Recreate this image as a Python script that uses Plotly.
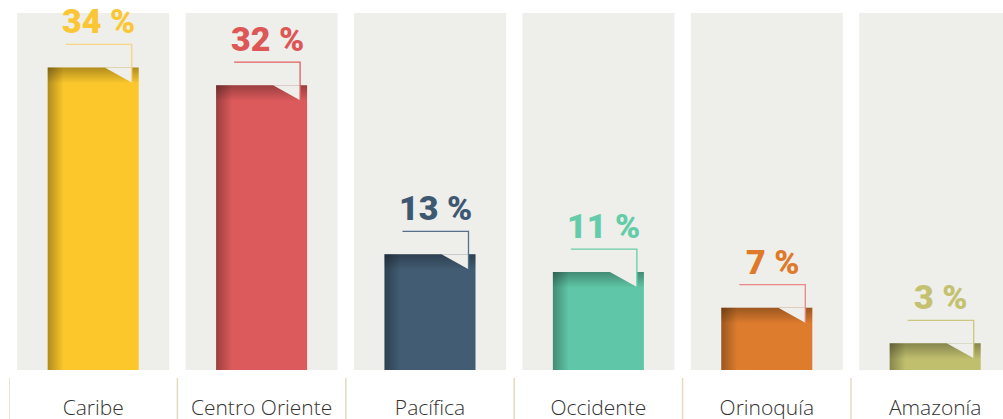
import plotly.graph_objects as go

# ---- data ----
categories = ["Caribe", "Centro Oriente", "Pacífica", "Occidente", "Orinoquía", "Amazonía"]
values = [34, 32, 13, 11, 7, 3]
value_labels = ["34 %", "32 %", "13 %", "11 %", "7 %", "3 %"]

# ---- styles ----
bar_colors = ["#FBC72B", "#DC5A5B", "#425C73", "#5FC7A7", "#DD7C2D", "#C0BF6E"]
label_colors = ["#FBC633", "#DD5757", "#3E5872", "#63CCA8", "#E07A2B", "#C4C170"]
line_colors = ["#F5D488", "#E06060", "#54708A", "#6ACDAB", "#E88888", "#CBC680"]
panel_color = "#EEEEEA"
label_font = "Roboto, DejaVu Sans Condensed, sans-serif"

W, H = 1003, 419
ML, MB = 9, 49
PX_PER_CAT = 168.4
PX_PER_UNIT = 8.9
plot_h = H - MB
px = 1.0 / PX_PER_CAT
py = 1.0 / PX_PER_UNIT

bar_w = 91 * px
panel_half = 76 * px
xs = list(range(len(categories)))

fig = go.Figure()
fig.add_trace(go.Bar(
    x=xs, y=values, width=bar_w,
    marker=dict(color=bar_colors, line=dict(width=0)),
    hoverinfo="skip", showlegend=False,
))

shapes = []
annotations = []
for i, v in enumerate(values):
    left = i - bar_w / 2
    right = i + bar_w / 2
    shapes.append(dict(type="rect", layer="below", xref="x", yref="paper",
                       x0=i - panel_half, x1=i + panel_half, y0=0, y1=1 - 13 / plot_h,
                       fillcolor=panel_color, line=dict(width=0)))
    shapes.append(dict(type="line", xref="x", yref="paper",
                       x0=i - 0.5, x1=i - 0.5, y0=-8 / plot_h, y1=-(MB + 5) / plot_h,
                       line=dict(color="#E6DAC4", width=1.5)))
    sw = 16 * px
    sh = 16 * py
    fig.add_trace(go.Scatter(
        x=[left, left + sw, left + sw, left, left], y=[0, 0, v, v, 0],
        mode="none", fill="toself",
        fillgradient=dict(type="horizontal", start=left, stop=left + sw,
                          colorscale=[[0, "rgba(0,0,0,0.30)"], [1, "rgba(0,0,0,0)"]]),
        hoverinfo="skip", showlegend=False))
    fig.add_trace(go.Scatter(
        x=[left, right, right, left, left], y=[v - sh, v - sh, v, v, v - sh],
        mode="none", fill="toself",
        fillgradient=dict(type="vertical", start=v - sh, stop=v,
                          colorscale=[[0, "rgba(0,0,0,0)"], [1, "rgba(0,0,0,0.30)"]]),
        hoverinfo="skip", showlegend=False))
    nx0 = left + 57 * px
    nx1 = right - 7 * px
    ndep = 15 * py
    fig.add_trace(go.Scatter(
        x=[nx0, nx1, nx1, nx0], y=[v, v, v - ndep, v],
        mode="none", fill="toself", fillcolor=panel_color,
        hoverinfo="skip", showlegend=False))
    ly = v + 23 * py
    lx0 = left + 18 * px
    fig.add_trace(go.Scatter(
        x=[lx0, nx1, nx1], y=[ly, ly, v - ndep],
        mode="lines", line=dict(color=line_colors[i], width=1.3),
        hoverinfo="skip", showlegend=False))
    annotations.append(dict(
        x=(lx0 + nx1) / 2, y=ly, xref="x", yref="y",
        text=value_labels[i], showarrow=False, xanchor="center", yanchor="bottom",
        yshift=1,
        font=dict(family=label_font, size=34, color=label_colors[i], weight=900)))

fig.update_layout(
    width=W, height=H,
    margin=dict(l=ML, r=0, t=0, b=MB, pad=0),
    paper_bgcolor="white", plot_bgcolor="white",
    showlegend=False,
    shapes=shapes, annotations=annotations,
    xaxis=dict(range=[-0.5, -0.5 + (W - ML) / PX_PER_CAT], tickvals=xs, ticktext=categories,
               showgrid=False, zeroline=False, showline=False, ticks="",
               automargin=False, ticklabelstandoff=23,
               tickfont=dict(family="Open Sans, Noto Sans, sans-serif", size=21,
                             color="#333333", weight=300)),
    yaxis=dict(range=[0, plot_h / PX_PER_UNIT], visible=False, showgrid=False,
               zeroline=False, automargin=False),
)

fig.write_html("out.html", config={"displayModeBar": False},
               post_script="document.body.style.margin='0px';")
